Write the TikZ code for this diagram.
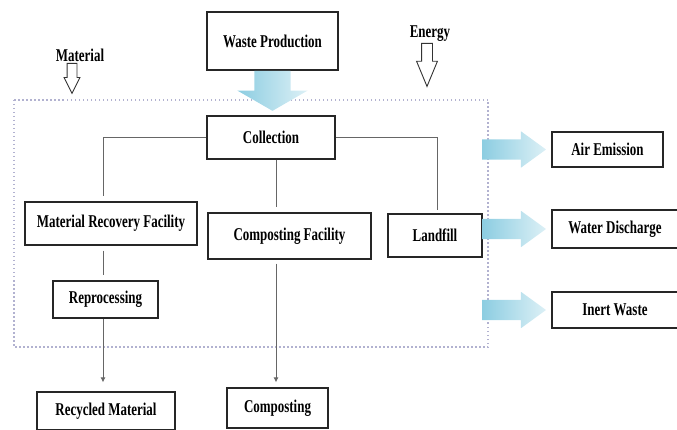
\documentclass[tikz,border=0pt]{standalone}
\usepackage{fontspec}
\setmainfont{Liberation Serif}[FakeStretch=0.72]
\usepackage{tikz}
\usetikzlibrary{shapes.arrows,arrows.meta}
\definecolor{flowblue}{RGB}{140,205,225}
\definecolor{boundgray}{RGB}{178,178,208}

\begin{document}
\begin{tikzpicture}[x=1pt,y=1pt,yscale=-1,xscale=1,
    box/.style={draw=black!85,line width=1.3pt,fill=white,inner sep=2pt,font=\fontsize{18}{20}\selectfont\bfseries},
    lbl/.style={inner sep=1pt,font=\fontsize{18}{20}\selectfont\bfseries},
    link/.style={draw=black!60,line width=0.8pt},
    flow/.style={single arrow,inner sep=0pt,text height=20pt,text depth=0pt,text width=0pt,minimum width=36pt,single arrow head extend=8pt,single arrow tip angle=72,minimum height=64pt,left color=flowblue,right color=flowblue!30,draw=none},
    hollow/.style={single arrow,inner sep=0pt,text depth=0pt,text width=0pt,draw=black!80,line width=0.9pt,fill=white,rotate=270}]

    \useasboundingbox (0,0) rectangle (677,430);

    % system boundary
    \draw[boundgray,line width=1.1pt,dash pattern=on 1.5pt off 2.5pt] (14,100) rectangle (488,347);

    % boxes
    \node[box,minimum width=131pt,minimum height=58pt] (wp) at (272.5,41) {Waste Production};
    \node[box,minimum width=128pt,minimum height=43pt] (coll) at (271,137.5) {Collection};
    \node[box,minimum width=172pt,minimum height=43pt] (mrf) at (111,223.5) {Material Recovery Facility};
    \node[box,minimum width=163pt,minimum height=46pt] (cf) at (289.5,236) {Composting Facility};
    \node[box,minimum width=94pt,minimum height=43pt] (lf) at (435,235.5) {Landfill};
    \node[box,minimum width=105pt,minimum height=37pt] (rep) at (105.5,299.5) {Reprocessing};
    \node[box,minimum width=138pt,minimum height=38pt] (rec) at (106,411) {Recycled Material};
    \node[box,minimum width=101pt,minimum height=40pt] (comp) at (277.5,408) {Composting};
    \node[box,minimum width=111pt,minimum height=35pt] (air) at (607.5,149.5) {Air Emission};
    \node[box,minimum width=126pt,minimum height=38pt] (water) at (615,229) {Water Discharge};
    \node[box,minimum width=126pt,minimum height=36pt] (inert) at (615,310) {Inert Waste};

    % inputs
    \node[lbl] (mat) at (80,55) {Material};
    \node[lbl] (en) at (430,34) {Energy};
    \node[hollow,text height=9pt,minimum width=15pt,minimum height=30pt,single arrow head extend=3pt,single arrow tip angle=53,anchor=tail] (matin) at (72,63) {};
    \node[hollow,text height=10pt,minimum width=20pt,minimum height=43pt,single arrow head extend=5pt,single arrow tip angle=45,anchor=tail] (enin) at (427,43) {};

    % blue flows
    \node[flow,rotate=270,text height=36pt,minimum width=70pt,single arrow head extend=17pt,minimum height=40pt,single arrow tip angle=120,anchor=tail] (down) at (wp.south) {};
    \node[flow,anchor=tip] (toair) at ([xshift=-5pt]air.west) {};
    \node[flow,anchor=tip] (towater) at ([xshift=-5pt]water.west) {};
    \node[flow,anchor=tip] (toinert) at ([xshift=-5pt]inert.west) {};

    % connectors
    \draw[link,shorten >=5pt] (coll.west) -| ([xshift=-8pt]mrf.north);
    \draw[link,shorten >=3pt] (coll.east) -| ([xshift=2pt]lf.north);
    \draw[link,shorten >=5pt] ([xshift=5pt]coll.south) -- ([xshift=5pt]coll.south |- cf.north);
    \draw[link,shorten <=5pt,shorten >=5pt] ([xshift=-8pt]mrf.south) -- ([xshift=-8pt]mrf.south |- rep.north);
    \draw[link,shorten >=9pt,-{Latex[length=5pt,width=5pt]}] ([xshift=-2.5pt]rep.south) -- ([xshift=-2.5pt]rep.south |- rec.north);
    \draw[link,shorten <=4pt,shorten >=5pt,-{Latex[length=5pt,width=5pt]}] ([xshift=-13.5pt]cf.south) -- ([xshift=-13.5pt]cf.south |- comp.north);

\end{tikzpicture}
\end{document}
